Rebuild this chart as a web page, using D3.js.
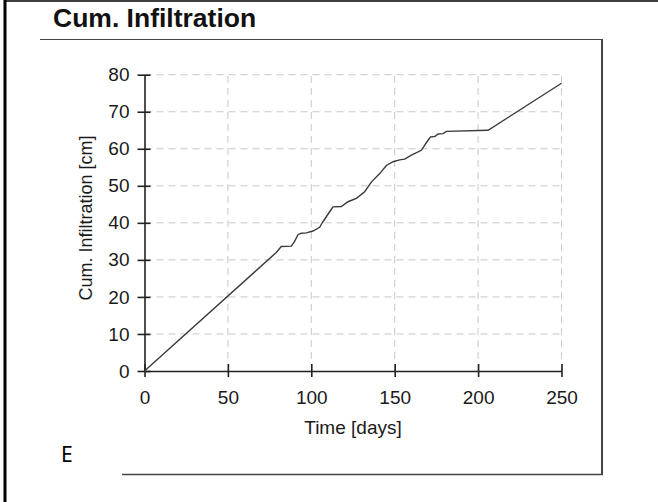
<!DOCTYPE html>
<html>
<head>
<meta charset="utf-8">
<script src="https://cdn.jsdelivr.net/npm/d3@7"></script>
<style>
  body { margin: 0; background: #fff; }
  svg { display: block; }
  text { font-family: "Liberation Sans", Arial, sans-serif; fill: #1a1a1a; }
</style>
</head>
<body>
<div id="chart"></div>
<script>
// values
let days = [0, 79, 82, 88, 90, 92, 94, 97, 101, 105, 107, 111, 113, 118, 122, 127, 132, 136, 141, 145,
    149, 153, 156, 160, 166, 168, 170, 171.5, 174, 176, 179, 181, 206, 250];
let cumInfil = [0, 32, 33.6, 33.7, 35, 36.8, 37.2, 37.3, 37.8, 38.8, 40.3, 43, 44.3, 44.4, 45.7, 46.6, 48.4, 51, 53.3, 55.5,
    56.5, 57, 57.2, 58.3, 59.6, 61, 62.3, 63.2, 63.3, 64, 64.1, 64.7, 65, 77.7];
let xTicks = [0, 50, 100, 150, 200, 250];
let yTicks = [0, 10, 20, 30, 40, 50, 60, 70, 80];

let svgWidth = 658, svgHeight = 502;
let svg = d3.select("#chart").append("svg")
    .attr("width", svgWidth)
    .attr("height", svgHeight);

// page frame
svg.append("line").attr("x1", 5).attr("y1", 0).attr("x2", 5).attr("y2", svgHeight)
    .attr("stroke", "#000").attr("stroke-width", 3);
svg.append("line").attr("x1", 5).attr("y1", 1).attr("x2", svgWidth).attr("y2", 1)
    .attr("stroke", "#000").attr("stroke-width", 1.5);

// panel box
svg.append("line").attr("x1", 40).attr("y1", 39.5).attr("x2", 602).attr("y2", 39.5)
    .attr("stroke", "#444").attr("stroke-width", 1.2);
svg.append("line").attr("x1", 602).attr("y1", 39).attr("x2", 602).attr("y2", 475)
    .attr("stroke", "#444").attr("stroke-width", 2);
svg.append("line").attr("x1", 122).attr("y1", 474.5).attr("x2", 603).attr("y2", 474.5)
    .attr("stroke", "#444").attr("stroke-width", 1.5);

svg.append("text")
    .attr("x", 53).attr("y", 27)
    .attr("font-size", "26.5px")
    .attr("font-weight", "bold")
    .style("fill", "#111")
    .text("Cum. Infiltration");

svg.append("text")
    .attr("x", 61).attr("y", 462)
    .attr("font-size", "21px")
    .style("font-family", "'Noto Sans', sans-serif")
    .style("fill", "#000")
    .text("E");

let x = d3.scaleLinear().domain([0, 250]).range([144.5, 561.5]);
let y = d3.scaleLinear().domain([0, 80]).range([371, 74.7]);

// dashed grid
let grid = svg.append("g")
    .attr("stroke", "#c8c8c8")
    .attr("stroke-width", 1)
    .attr("stroke-dasharray", "7,5");
grid.selectAll(".gx")
    .data(xTicks.slice(1))
    .enter().append("line")
    .attr("x1", d => x(d)).attr("x2", d => x(d))
    .attr("y1", y(0)).attr("y2", y(80));
grid.selectAll(".gy")
    .data(yTicks.slice(1))
    .enter().append("line")
    .attr("x1", x(0)).attr("x2", x(250))
    .attr("y1", d => y(d)).attr("y2", d => y(d));

// axes
let xAxis = svg.append("g")
    .attr("transform", "translate(0," + y(0) + ")")
    .call(d3.axisBottom(x).tickValues(xTicks).tickSize(6).tickSizeOuter(0).tickPadding(14));
let yAxis = svg.append("g")
    .attr("transform", "translate(" + x(0) + ",0)")
    .call(d3.axisLeft(y).tickValues(yTicks).tickSize(7).tickSizeOuter(0).tickPadding(8));

[xAxis, yAxis].forEach(function(a) {
    a.select(".domain").attr("stroke", "#222").attr("stroke-width", 1.6);
    a.selectAll(".tick line").attr("stroke", "#222").attr("stroke-width", 1.6);
    a.selectAll(".tick text")
        .attr("font-size", "19px")
        .attr("font-family", "'Liberation Sans', Arial, sans-serif")
        .style("fill", "#1a1a1a");
});
xAxis.selectAll(".tick line").attr("y1", -7);
yAxis.selectAll(".tick line").attr("x1", 6);

svg.append("text")
    .attr("x", (x(0) + x(250)) / 2).attr("y", 434)
    .attr("text-anchor", "middle")
    .attr("font-size", "19px")
    .text("Time [days]");

svg.append("text")
    .attr("transform", "translate(92," + 218 + ") rotate(-90)")
    .attr("text-anchor", "middle")
    .attr("font-size", "18px")
    .text("Cum. Infiltration [cm]");

// data line
let line = d3.line()
    .x((d, i) => x(days[i]))
    .y(d => y(d));
svg.append("path")
    .datum(cumInfil)
    .attr("fill", "none")
    .attr("stroke", "#3a3a3a")
    .attr("stroke-width", 1.4)
    .attr("d", line);
</script>
</body>
</html>
